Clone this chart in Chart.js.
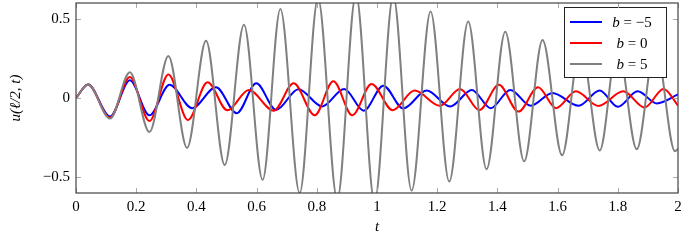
<!DOCTYPE html>
<html>
<head>
<meta charset="utf-8">
<script src="https://cdn.jsdelivr.net/npm/chart.js@4.4.0/dist/chart.umd.min.js"></script>
<style>
  html, body { margin: 0; padding: 0; background: #fff; }
</style>
</head>
<body>
<canvas id="chart" width="691" height="240"></canvas>
<script>
// tick labels
const xTicks = [0, 0.2, 0.4, 0.6, 0.8, 1, 1.2, 1.4, 1.6, 1.8, 2];
const yTicks = [-0.5, 0, 0.5];

// b = -5 (blue): peaks and troughs
const tBm5 = [0, 0.040, 0.113, 0.179, 0.244, 0.311, 0.386, 0.465, 0.534, 0.599, 0.665, 0.739, 0.818, 0.891, 0.956, 1.021,
  1.087, 1.165, 1.243, 1.315, 1.378, 1.443, 1.511, 1.583, 1.670, 1.740, 1.800, 1.866, 1.930, 2.0];
const uBm5 = [0, 0.085, -0.117, 0.112, -0.109, 0.083, -0.064, 0.068, -0.096, 0.093, -0.075, 0.056, -0.053, 0.057, -0.080, 0.078,
  -0.066, 0.047, -0.054, 0.051, -0.064, 0.051, -0.049, 0.032, -0.049, 0.047, -0.056, 0.042, -0.034, 0.022];

// b = 0 (red)
const tB0 = [0, 0.040, 0.113, 0.179, 0.244, 0.307, 0.372, 0.437, 0.503, 0.574, 0.657, 0.723, 0.793, 0.855, 0.918, 0.982,
  1.052, 1.125, 1.209, 1.276, 1.340, 1.405, 1.470, 1.535, 1.595, 1.661, 1.735, 1.818, 1.889, 1.952, 2.0];
const uB0 = [0, 0.085, -0.124, 0.132, -0.145, 0.149, -0.139, 0.100, -0.078, 0.051, -0.080, 0.093, -0.109, 0.106, -0.109, 0.089,
  -0.077, 0.047, -0.049, 0.057, -0.077, 0.083, -0.086, 0.068, -0.064, 0.042, -0.050, 0.042, -0.060, 0.057, -0.048];

// b = 5 (gray)
const tB5 = [0, 0.040, 0.113, 0.179, 0.244, 0.307, 0.369, 0.432, 0.494, 0.558, 0.620, 0.679, 0.743, 0.804, 0.868, 0.930,
  0.992, 1.054, 1.115, 1.178, 1.240, 1.303, 1.364, 1.426, 1.489, 1.550, 1.615, 1.676, 1.740, 1.799, 1.863, 1.925, 1.990, 2.0];
const uB5 = [0, 0.085, -0.130, 0.162, -0.215, 0.266, -0.315, 0.361, -0.423, 0.462, -0.517, 0.562, -0.600, 0.630, -0.640, 0.655,
  -0.655, 0.645, -0.585, 0.547, -0.528, 0.483, -0.450, 0.419, -0.400, 0.366, -0.362, 0.350, -0.331, 0.340, -0.324, 0.340, -0.336, -0.320];

const serif = "'Liberation Serif', 'DejaVu Serif', serif";

const legendItems = [
  { label: ' = \u22125', color: '#0000ff' },
  { label: ' = 0', color: '#ff0000' },
  { label: ' = 5', color: '#808080' }
];

function pts(ts, us) {
  return ts.map((t, i) => ({ x: t, y: us[i] }));
}

function minusFmt(v) {
  return v < 0 ? '\u2212' + Math.abs(v) : String(v);
}

// frame, inner ticks and boxed legend like pgfplots
const framePlugin = {
  id: 'frame',
  afterDatasetsDraw(chart) {
    const ctx = chart.ctx;
    ctx.save();
    ctx.fillStyle = '#fff';
    ctx.fillRect(564, 7, 102, 70);
    ctx.strokeStyle = '#222';
    ctx.lineWidth = 1;
    ctx.strokeRect(564.5, 7.5, 102, 70);
    legendItems.forEach((it, i) => {
      const ly = 22 + i * 21;
      ctx.strokeStyle = it.color;
      ctx.lineWidth = 2;
      ctx.beginPath();
      ctx.moveTo(570, ly);
      ctx.lineTo(602, ly);
      ctx.stroke();
      ctx.font = 'italic 15px ' + serif;
      const wb = ctx.measureText('b').width;
      ctx.font = '15px ' + serif;
      const wr = ctx.measureText(it.label).width;
      const x0 = 632 - (wb + wr) / 2;
      ctx.fillStyle = '#000';
      ctx.textBaseline = 'middle';
      ctx.font = 'italic 15px ' + serif;
      ctx.fillText('b', x0, ly + 1);
      ctx.font = '15px ' + serif;
      ctx.fillText(it.label, x0 + wb, ly + 1);
    });
    ctx.restore();
  },
  afterDraw(chart) {
    const { ctx, chartArea: a, scales: { x, y } } = chart;
    ctx.save();
    ctx.strokeStyle = '#aaa';
    ctx.lineWidth = 1;
    ctx.beginPath();
    xTicks.forEach(v => {
      const px = Math.round(x.getPixelForValue(v)) + 0.5;
      ctx.moveTo(px, a.bottom); ctx.lineTo(px, a.bottom - 5);
      ctx.moveTo(px, a.top); ctx.lineTo(px, a.top + 5);
    });
    yTicks.forEach(v => {
      const py = Math.round(y.getPixelForValue(v)) + 0.5;
      ctx.moveTo(a.left, py); ctx.lineTo(a.left + 5, py);
      ctx.moveTo(a.right, py); ctx.lineTo(a.right - 5, py);
    });
    ctx.stroke();
    ctx.strokeStyle = '#444';
    ctx.lineWidth = 1.2;
    ctx.strokeRect(a.left, a.top, a.right - a.left, a.bottom - a.top);
    ctx.restore();
  }
};

new Chart(document.getElementById('chart'), {
  type: 'line',
  data: {
    datasets: [
      { label: 'b = -5', data: pts(tBm5, uBm5), borderColor: '#0000ff', order: 2 },
      { label: 'b = 0', data: pts(tB0, uB0), borderColor: '#ff0000', order: 1 },
      { label: 'b = 5', data: pts(tB5, uB5), borderColor: '#808080', order: 0 }
    ]
  },
  options: {
    responsive: false,
    animation: false,
    devicePixelRatio: 1,
    layout: { padding: { left: 0, right: 13, top: 3, bottom: 0 } },
    elements: {
      line: { borderWidth: 2, cubicInterpolationMode: 'monotone', fill: false },
      point: { radius: 0 }
    },
    datasets: { line: { clip: 0 } },
    plugins: { legend: { display: false }, tooltip: { enabled: false } },
    scales: {
      x: {
        type: 'linear',
        min: 0,
        max: 2,
        afterBuildTicks: s => { s.ticks = xTicks.map(v => ({ value: v })); },
        afterFit: s => { s.height = 47; s.paddingLeft = 0; s.paddingRight = 0; },
        grid: { display: false, drawTicks: false },
        border: { display: false },
        ticks: { color: '#000', font: { family: serif, size: 15 }, padding: 5, maxRotation: 0, autoSkip: false, callback: v => minusFmt(v) },
        title: { display: true, text: 't', color: '#000', font: { family: serif, size: 15, style: 'italic' }, padding: { top: 0, bottom: 4 } }
      },
      y: {
        type: 'linear',
        min: -0.6,
        max: 0.6,
        afterBuildTicks: s => { s.ticks = yTicks.map(v => ({ value: v })); },
        afterFit: s => { s.width = 76; s.paddingTop = 0; s.paddingBottom = 0; },
        grid: { display: false, drawTicks: false },
        border: { display: false },
        ticks: { color: '#000', font: { family: serif, size: 15 }, padding: 6, callback: v => minusFmt(v) },
        title: { display: true, text: 'u(\u2113/2, t)', color: '#000', font: { family: serif, size: 15, style: 'italic' }, padding: { top: 7, bottom: 0 } }
      }
    }
  },
  plugins: [framePlugin]
});
</script>
</body>
</html>
